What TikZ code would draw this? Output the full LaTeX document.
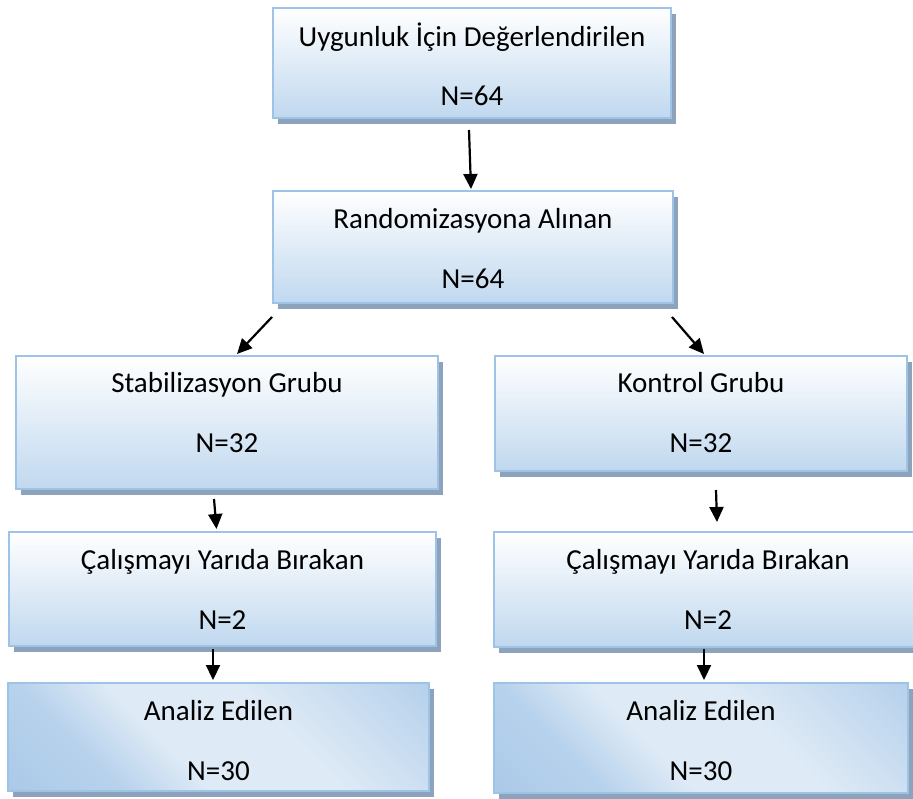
\documentclass[tikz,border=0pt]{standalone}
\usepackage{fontspec}
\setmainfont{Carlito}
\usetikzlibrary{calc,shadows,arrows.meta}
\definecolor{bordc}{RGB}{157,195,230}
\definecolor{shadc}{RGB}{141,163,188}
\definecolor{gradb}{RGB}{192,216,239}
\definecolor{diagb}{RGB}{158,194,229}
\definecolor{diagl}{RGB}{222,234,246}
\pgfdeclarehorizontalshading{diagsh}{100bp}{color(0bp)=(diagb); color(30bp)=(diagb!60!diagl); color(42bp)=(diagl); color(60bp)=(diagl); color(80bp)=(diagb!50!diagl); color(100bp)=(diagb)}
\tikzset{
  boxbase/.style={draw=bordc, line width=2pt, anchor=north west, inner sep=0pt,
    drop shadow={shadow xshift=5pt, shadow yshift=-6pt, fill=shadc, opacity=1}},
  vbox/.style={boxbase, top color=white, bottom color=gradb},
  dbox/.style={boxbase, shading=diagsh, shading angle=45},
  txt/.style={anchor=base, inner sep=0pt, font=\fontsize{29}{35}\selectfont},
  arr/.style={line width=2.2pt, -{Triangle[length=15pt,width=14pt]}}
}
\newcommand{\mybox}[7]{% style, name, x0,y0,x1,y1, ...
  \node[#1, minimum width={(#5-#3)*1pt}, minimum height={(#6-#4)*1pt}] (#2) at (#3,#4) {};}
\begin{document}
\begin{tikzpicture}[x=1pt,y=-1pt]
\useasboundingbox (0,0) rectangle (913,799);
% boxes
\mybox{vbox}{b1}{272}{7}{670}{117}{}
\mybox{vbox}{b2}{272}{190}{672}{302}{}
\mybox{vbox}{b3}{15}{355}{437}{488}{}
\mybox{vbox}{b4}{494}{355}{906}{470}{}
\mybox{vbox}{b5}{8}{531}{435}{645}{}
\mybox{vbox}{b6}{493}{531}{921}{646}{}
\mybox{dbox}{b7}{7}{682}{428}{790}{}
\mybox{dbox}{b8}{493}{682}{907}{792}{}
% texts
\node[txt] (t1a) at ($(b1.north)+(0,40)$) {Uygunluk İçin Değerlendirilen};
\node[txt] (t1b) at ($(b1.north)+(0,99)$) {N=64};
\node[txt] (t2a) at ($(b2.north)+(0,39)$) {Randomizasyona Alınan};
\node[txt] (t2b) at ($(b2.north)+(0,99)$) {N=64};
\node[txt] (t3a) at ($(b3.north)+(0,38)$) {Stabilizasyon Grubu};
\node[txt] (t3b) at ($(b3.north)+(0,98)$) {N=32};
\node[txt] (t4a) at ($(b4.north)+(0,38)$) {Kontrol Grubu};
\node[txt] (t4b) at ($(b4.north)+(0,98)$) {N=32};
\node[txt] (t5a) at ($(b5.north)+(0,38)$) {Çalışmayı Yarıda Bırakan};
\node[txt] (t5b) at ($(b5.north)+(0,98)$) {N=2};
\node[txt] (t6a) at ($(b6.north)+(0,38)$) {Çalışmayı Yarıda Bırakan};
\node[txt] (t6b) at ($(b6.north)+(0,98)$) {N=2};
\node[txt] (t7a) at ($(b7.north)+(0,38)$) {Analiz Edilen};
\node[txt] (t7b) at ($(b7.north)+(0,98)$) {N=30};
\node[txt] (t8a) at ($(b8.north)+(0,38)$) {Analiz Edilen};
\node[txt] (t8b) at ($(b8.north)+(0,98)$) {N=30};
% arrows
\draw[arr] ($(b1.south)+(-3,11)$) -- ($(b2.north)+(-2,-1)$);
\draw[arr] ($(b2.south west)+(0,13)$) -- ($(b3.north)+(10,-1)$);
\draw[arr] ($(b2.south east)+(-2,13)$) -- ($(b4.north)+(3,-1)$);
\draw[arr] ($(b3.south)+(-13,9)$) -- ($(b5.north)+(-6,-2)$);
\draw[arr] ($(b4.south)+(15,18)$) -- ($(b6.north)+(9,-9)$);
\draw[arr] ($(b5.south)+(-9.5,2)$) -- ($(b7.north)+(-5.5,-2)$);
\draw[arr] ($(b6.south)+(-4,1)$) -- ($(b8.north)+(3,-2)$);
\end{tikzpicture}
\end{document}
